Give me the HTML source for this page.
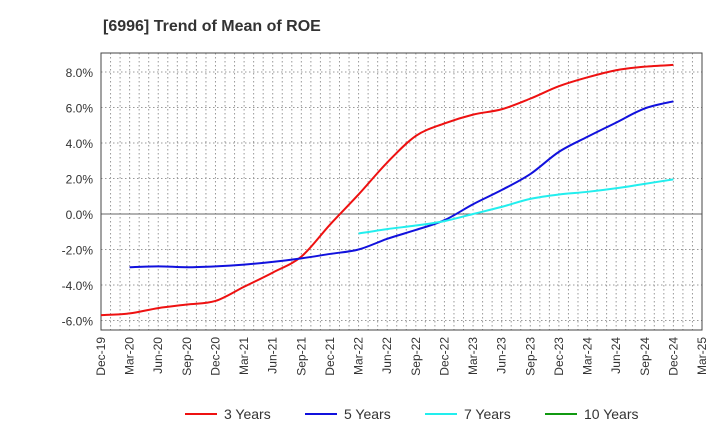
<!DOCTYPE html>
<html><head><meta charset="utf-8"><style>
body{margin:0;background:#fff;font-family:"Liberation Sans",sans-serif}
</style></head><body>
<svg id="chart" width="720" height="440" xmlns="http://www.w3.org/2000/svg" font-family="Liberation Sans, sans-serif">
<text x="103" y="31" font-size="16" font-weight="bold" fill="#333">[6996]  Trend of Mean of ROE</text>
<g id="grid"></g><g id="axes"></g><g id="series"></g><g id="legend"></g>
</svg>
<script>
const xLabels=["Dec-19","Mar-20","Jun-20","Sep-20","Dec-20","Mar-21","Jun-21","Sep-21","Dec-21","Mar-22","Jun-22","Sep-22","Dec-22","Mar-23","Jun-23","Sep-23","Dec-23","Mar-24","Jun-24","Sep-24","Dec-24","Mar-25"];
const yTicks=[-6,-4,-2,0,2,4,6,8];
const seriesNames=["3 Years","5 Years","7 Years","10 Years"];
const seriesColors=["#ee1111","#1111dd","#22eeee","#119911"];
const start3=0, start5=1, start7=9;
const vals3=[-5.7,-5.6,-5.3,-5.1,-4.9,-4.1,-3.3,-2.4,-0.6,1.1,2.9,4.4,5.1,5.6,5.9,6.5,7.2,7.7,8.1,8.3,8.4];
const vals5=[-3.0,-2.95,-3.0,-2.95,-2.85,-2.7,-2.5,-2.25,-2.0,-1.4,-0.9,-0.35,0.55,1.35,2.25,3.5,4.35,5.15,5.95,6.35];
const vals7=[-1.1,-0.85,-0.65,-0.4,0.0,0.4,0.85,1.1,1.25,1.45,1.7,1.95];
const vals10=[];
const L=101,R=702,T=53,B=330;
const X=i=>L+i*(R-L)/(xLabels.length-1);
const Y=v=>214-v*17.75;
const NS="http://www.w3.org/2000/svg";
function mk(tag,attrs,parent){const e=document.createElementNS(NS,tag);for(const k in attrs)e.setAttribute(k,attrs[k]);parent.appendChild(e);return e;}
const grid=document.getElementById('grid'),axes=document.getElementById('axes'),ser=document.getElementById('series'),leg=document.getElementById('legend');
for(let m=1;m<(xLabels.length-1)*3;m++){const x=L+m*(R-L)/((xLabels.length-1)*3);
 const g=mk('line',{x1:x,x2:x,y1:T,y2:B,stroke:'#999','stroke-dasharray':'1.5,2.5','stroke-width':1},grid);
 
 }
yTicks.forEach(v=>{const y=Y(v);
 const g=mk('line',{x1:L,x2:R,y1:y,y2:y,stroke:v===0?'#666':'#999','stroke-dasharray':v===0?'none':'1.5,2.5','stroke-width':1},grid);
 
 
 const t=mk('text',{x:L-8,y:y+5,'text-anchor':'end','font-size':12,fill:'#333'},axes);t.textContent=v.toFixed(1)+'%';
 
 });
const fr=mk('rect',{x:L,y:T,width:R-L,height:B-T,fill:'none',stroke:'#444','stroke-width':1},axes);


xLabels.forEach((s,i)=>{const x=X(i)+4;const t=mk('text',{x:x,y:B+7,'text-anchor':'end','font-size':12,fill:'#333',transform:`rotate(-90 ${x} ${B+7})`},axes);t.textContent=s;
 
 });
function path(vals,st){const p=vals.map((v,i)=>[X(st+i),Y(v)]);if(p.length<2)return'';let d=`M${p[0][0]},${p[0][1]}`;
 for(let i=0;i<p.length-1;i++){const p0=p[i-1]||p[i],p1=p[i],p2=p[i+1],p3=p[i+2]||p2;
 d+=` C${p1[0]+(p2[0]-p0[0])/6},${p1[1]+(p2[1]-p0[1])/6} ${p2[0]-(p3[0]-p1[0])/6},${p2[1]-(p3[1]-p1[1])/6} ${p2[0]},${p2[1]}`;}return d;}
[[vals3,start3,0,'line-3-years'],[vals5,start5,1,'line-5-years'],[vals7,start7,2,'line-7-years'],[vals10,0,3,'line-10-years']].forEach(([v,s,c,n])=>{
 if(!v.length)return;const e=mk('path',{d:path(v,s),fill:'none',stroke:seriesColors[c],'stroke-width':2},ser);
 
 });
const lx=[185,305,425,545];
seriesNames.forEach((n,i)=>{const g=mk('g',{},leg);
 
 
 mk('line',{x1:lx[i],x2:lx[i]+32,y1:414,y2:414,stroke:seriesColors[i],'stroke-width':2},g);
 const t=mk('text',{x:lx[i]+39,y:419,'font-size':14,fill:'#333'},g);t.textContent=n;});
</script>
</body></html>
